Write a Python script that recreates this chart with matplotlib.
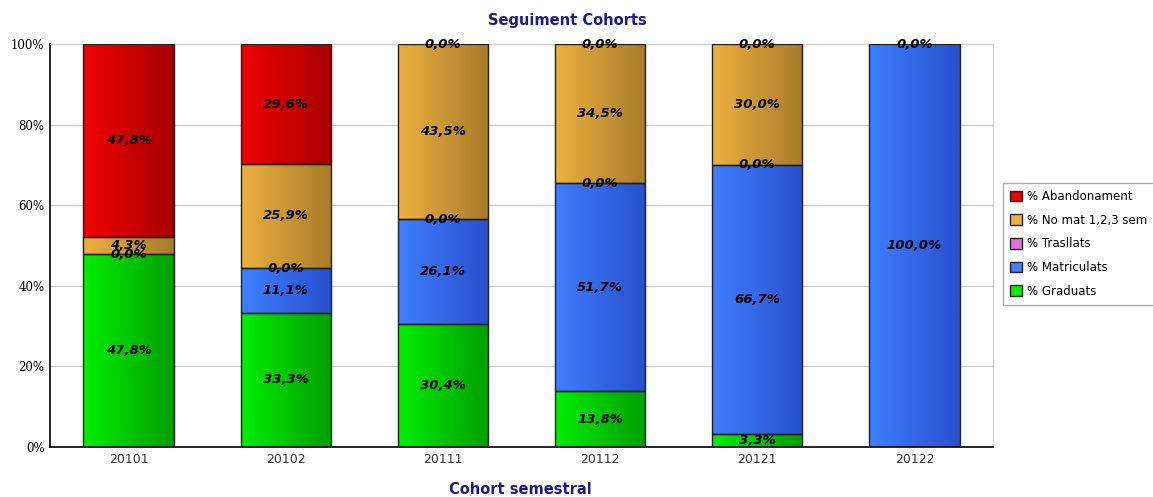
import numpy as np
import matplotlib
matplotlib.use('Agg')
import matplotlib.pyplot as plt
from matplotlib.colors import LinearSegmentedColormap
from matplotlib.patches import Patch

cohorts = ['20101', '20102', '20111', '20112', '20121', '20122']
series = ['% Graduats', '% Matriculats', '% Trasllats', '% No mat 1,2,3 sem', '% Abandonament']
graduats = [47.8, 33.3, 30.4, 13.8, 3.3, 0.0]
matriculats = [0.0, 11.1, 26.1, 51.7, 66.7, 100.0]
trasllats = [0.0, 0.0, 0.0, 0.0, 0.0, 0.0]
no_mat = [4.3, 25.9, 43.5, 34.5, 30.0, 0.0]
abandonament = [47.8, 29.6, 0.0, 0.0, 0.0, 0.0]

# light -> dark pairs for the gradient fill
colors = [('#00ee00', '#009f00'),
          ('#3f7fff', '#2850cc'),
          ('#e070e0', '#b050b0'),
          ('#ecb040', '#a87c2c'),
          ('#f00000', '#a80000')]

data = [graduats, matriculats, trasllats, no_mat, abandonament]

fig = plt.figure(figsize=(11.53, 4.97), dpi=100)
ax = fig.add_axes([50/1153, 50/497, 943/1153, 403/497])

width = 0.574
grad = np.linspace(0, 1, 64).reshape(1, -1)
bottoms = np.zeros(len(cohorts))
drawn = set()
for vals, (c1, c2) in zip(data, colors):
    cmap = LinearSegmentedColormap.from_list('g', [c1, c2])
    for i, v in enumerate(vals):
        b = bottoms[i]
        if v > 0:
            ax.imshow(grad, cmap=cmap, aspect='auto', extent=(i - width/2, i + width/2, b, b + v),
                      zorder=2, interpolation='bilinear')
            ax.bar(i, v, width, bottom=b, facecolor='none', edgecolor='#202020', linewidth=1.0, zorder=3)
        key = (i, round(b + v/2, 2))
        if not (v == 0 and b == 0) and key not in drawn:
            drawn.add(key)
            ax.text(i, b + v/2, ('%.1f%%' % v).replace('.', ','), ha='center', va='center',
                    fontsize=9.5, fontweight='bold', fontstyle='italic', color='black', zorder=4)
    bottoms += np.array(vals)

ax.set_xlim(-0.5, len(cohorts) - 0.5)
ax.set_ylim(0, 100)
ax.set_xticks(range(len(cohorts)))
ax.set_xticklabels(cohorts, fontsize=9, color='#333333')
ax.set_yticks([0, 20, 40, 60, 80, 100])
ax.set_yticklabels(['0%', '20%', '40%', '60%', '80%', '100%'], fontsize=8.5, family='DejaVu Serif')
ax.tick_params(length=0, pad=4)
ax.yaxis.grid(True, color='#cccccc', linewidth=1)
ax.set_axisbelow(True)
for s in ['top', 'right']:
    ax.spines[s].set_color('#cccccc')
for s in ['left', 'bottom']:
    ax.spines[s].set_color('#000000')
    ax.spines[s].set_linewidth(1.2)

fig.text(567/1153, 1 - 20/497, 'Seguiment Cohorts', ha='center', va='center',
         fontsize=10.5, fontweight='bold', color='#1a1a8c')
fig.text(520/1153, 1 - 490/497, 'Cohort semestral', ha='center', va='center',
         fontsize=10.5, fontweight='bold', color='#1a1a8c')

handles = [Patch(facecolor=c1, edgecolor='#202020', label=s)
           for s, (c1, c2) in reversed(list(zip(series, colors)))]
fig.legend(handles=handles, loc='upper left', bbox_to_anchor=(1003/1153, 1 - 183/497),
           fontsize=8.5, frameon=True, fancybox=False, edgecolor='#999999',
           handlelength=1.0, handleheight=1.0, handletextpad=0.4, labelspacing=0.9,
           borderpad=0.6, borderaxespad=0)

fig.savefig('out.png', dpi=100)
